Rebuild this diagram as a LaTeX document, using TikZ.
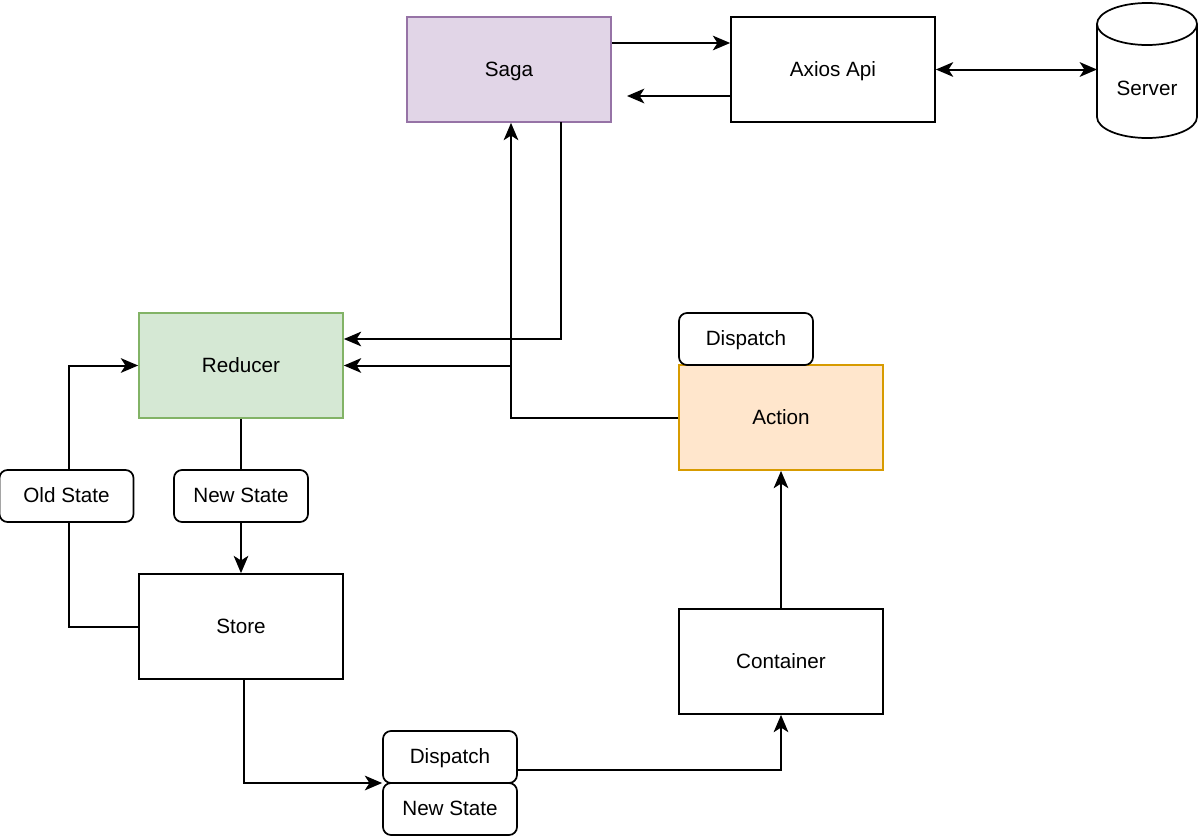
\documentclass[tikz,border=0pt]{standalone}
\usepackage{fontspec}
\setmainfont{Liberation Sans}
\usetikzlibrary{arrows.meta,shapes.geometric}
\definecolor{sagafill}{HTML}{E1D5E7}\definecolor{sagadraw}{HTML}{9673A6}
\definecolor{redfill}{HTML}{D5E8D4}\definecolor{reddraw}{HTML}{82B366}
\definecolor{actfill}{HTML}{FFE6CC}\definecolor{actdraw}{HTML}{D79B00}
\begin{document}
\begin{tikzpicture}[x=0.75pt,y=-0.75pt,
  font=\fontsize{15.5}{18}\selectfont,
  every node/.style={text height=12pt,text depth=2.2pt},
  box/.style={draw=black,line width=1.3pt,minimum width=153pt,minimum height=78.75pt,inner sep=0pt},
  tag/.style={draw=black,line width=1.3pt,rounded corners=6pt,minimum width=100.5pt,minimum height=39pt,inner sep=0pt,fill=white},
  conn/.style={line width=1.5pt,-{Stealth[length=13pt,width=11pt,inset=3.5pt]}},
  plain/.style={line width=1.5pt}]
\useasboundingbox (0,0) rectangle (1199,839);
\node[box,fill=sagafill,draw=sagadraw] (saga) at (509,69.5) {Saga};
\node[box] (axios) at (833,69.5) {Axios Api};
\node[box,fill=redfill,draw=reddraw] (reducer) at (241,365.5) {Reducer};
\node[box,fill=actfill,draw=actdraw] (action) at (781,417.5) {Action};
\node[tag] (disp1) at (746,339) {Dispatch};
\node[box] (store) at (241,626.5) {Store};
\node[box] (container) at (781,661.5) {Container};
\node[tag] (old) at (66.5,496) {Old State};
\node[tag] (new1) at (241,496) {New State};
\node[tag] (disp2) at (450,757) {Dispatch};
\node[tag] (new2) at (450,809) {New State};
% server cylinder
\draw[line width=1.3pt,fill=white] (1097,24) -- (1097,117) arc[start angle=180,end angle=0,x radius=50,y radius=21] -- (1197,24) arc[start angle=0,end angle=-180,x radius=50,y radius=21];
\draw[line width=1.3pt] (1097,24) arc[start angle=180,end angle=0,x radius=50,y radius=21];
\node (server) at (1147,89) {Server};
\coordinate (srvl) at (1097,69.5);
% connectors
\draw[conn] (saga.east |- 0,43) -- (axios.west |- 0,43);
\coordinate (sagaret) at (627,96);
\draw[conn] (axios.west |- 0,96) -- (sagaret);
\draw[line width=1.5pt,{Stealth[length=13pt,width=11pt,inset=3.5pt]}-{Stealth[length=13pt,width=11pt,inset=3.5pt]}] (axios.east) -- (srvl);
\draw[conn] (561,122) -- (561,339) -- (reducer.east |- 0,339);
\draw[conn] (action.west) -- (511,417.5) -- (saga.south -| 511,0);
\draw[conn] (511,365.5) -- (reducer.east);
\draw[plain] (reducer.south) -- (new1.north);
\draw[conn] (new1.south) -- (store.north);
\draw[plain] (store.west) -- (69,626.5) -- (old.south -| 69,0);
\draw[conn] (old.north -| 69,0) -- (69,365.5) -- (reducer.west);
\draw[conn] (store.south -| 244,0) -- (244,783) -- (disp2.west |- 0,783);
\draw[conn] (disp2.east |- 0,770) -- (781,770) -- (container.south);
\draw[conn] (container.north) -- (action.south);
\end{tikzpicture}
\end{document}
